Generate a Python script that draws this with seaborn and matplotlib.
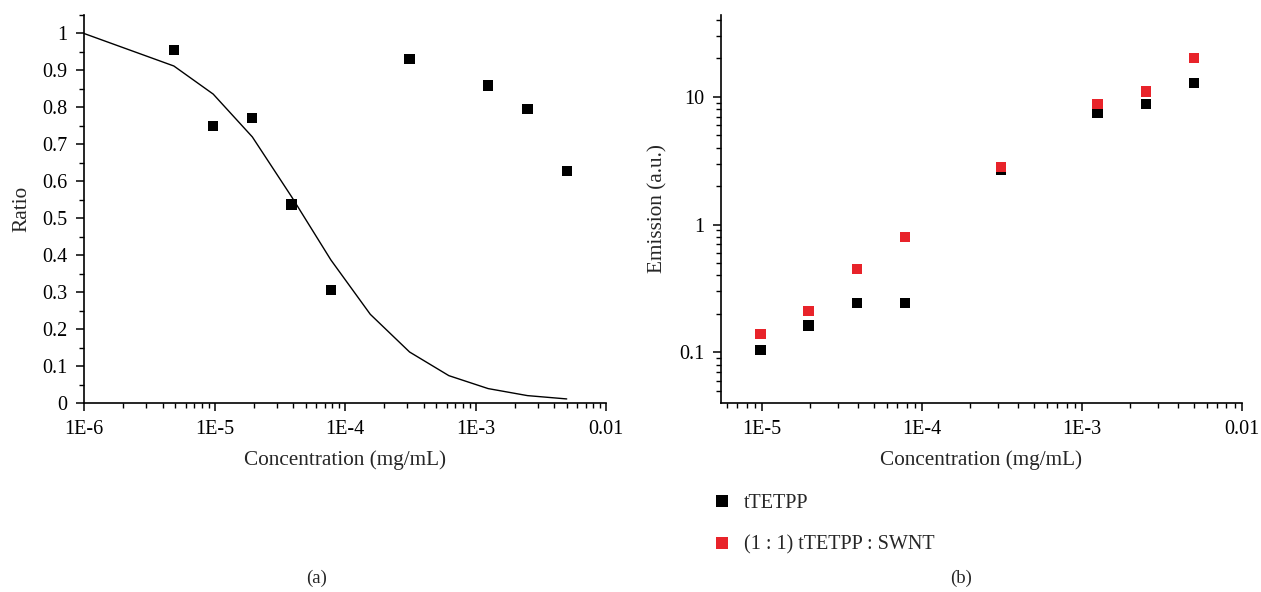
import numpy as np
import pandas as pd
import matplotlib
matplotlib.use("Agg")
import matplotlib.pyplot as plt
import matplotlib.ticker as mticker
from matplotlib.lines import Line2D
import seaborn as sns

# ---- data ----
ratio_conc = [4.88e-6, 9.77e-6, 1.95e-5, 3.9e-5, 7.8e-5, 3.125e-4, 1.25e-3, 2.5e-3, 5e-3]
ratio_vals = [0.955, 0.75, 0.772, 0.537, 0.306, 0.93, 0.859, 0.795, 0.627]

fit_conc = [1e-6, 4.88e-6, 9.77e-6, 1.95e-5, 3.9e-5, 7.8e-5, 1.5625e-4, 3.125e-4, 6.25e-4, 1.25e-3, 2.5e-3, 5e-3]
fit_vals = [1.0, 0.912, 0.836, 0.72, 0.558, 0.387, 0.24, 0.138, 0.074, 0.039, 0.020, 0.011]

em_conc = [9.77e-6, 1.95e-5, 3.9e-5, 7.8e-5, 3.125e-4, 1.25e-3, 2.5e-3, 5e-3]
em_tTETPP = [0.1037, 0.162, 0.242, 0.242, 2.66, 7.5, 8.76, 12.8]
em_swnt = [0.139, 0.21, 0.45, 0.796, 2.83, 8.76, 11.0, 20.2]

series_names = ["tTETPP", "(1 : 1) tTETPP : SWNT"]
x_ticks = [1e-6, 1e-5, 1e-4, 1e-3, 1e-2]
x_ticklabels = ["1E-6", "1E-5", "1E-4", "1E-3", "0.01"]
y2_ticks = [0.1, 1, 10]
y2_ticklabels = ["0.1", "1", "10"]

# ---- style ----
sns.set_style("ticks")
plt.rcParams["font.family"] = ["Liberation Serif", "DejaVu Serif"]
FS = 14.5
FS_LABEL = 15.3
BLACK = "#000000"
RED = "#e8232a"

fig = plt.figure(figsize=(12.61, 5.92), dpi=100)
ax1 = fig.add_axes([84 / 1261, 189 / 592, 522 / 1261, 388 / 592])
ax2 = fig.add_axes([721 / 1261, 189 / 592, 521 / 1261, 388 / 592])

# ---- panel (a) ----
df_fit = pd.DataFrame({"conc": fit_conc, "ratio": fit_vals})
df_ratio = pd.DataFrame({"conc": ratio_conc, "ratio": ratio_vals})
sns.lineplot(data=df_fit, x="conc", y="ratio", ax=ax1, color=BLACK, lw=1.0,
             estimator=None, sort=True)
sns.scatterplot(data=df_ratio, x="conc", y="ratio", ax=ax1, color=BLACK,
                marker="s", s=55, edgecolor="none", zorder=5)
ax1.set_xscale("log")
ax1.set_xlim(1e-6, 1e-2)
ax1.set_ylim(0, 1.05)
ax1.xaxis.set_major_locator(mticker.FixedLocator(x_ticks))
ax1.xaxis.set_major_formatter(mticker.FixedFormatter(x_ticklabels))
ax1.xaxis.set_minor_locator(mticker.LogLocator(base=10, subs=np.arange(2, 10)))
ax1.xaxis.set_minor_formatter(mticker.NullFormatter())
ax1.yaxis.set_major_locator(mticker.MultipleLocator(0.1))
ax1.yaxis.set_major_formatter(mticker.FuncFormatter(
    lambda v, p: f"{int(round(v))}" if abs(v - round(v)) < 1e-9 else f"{v:.1f}"))
ax1.yaxis.set_minor_locator(mticker.MultipleLocator(0.05))
ax1.set_xlabel("Concentration (mg/mL)", fontsize=FS_LABEL, labelpad=8)
ax1.set_ylabel("Ratio", fontsize=FS_LABEL, labelpad=8)

# ---- panel (b) ----
df_em = pd.DataFrame({
    "conc": em_conc * 2,
    "emission": em_tTETPP + em_swnt,
    "series": [series_names[0]] * len(em_conc) + [series_names[1]] * len(em_conc),
})
sns.scatterplot(data=df_em, x="conc", y="emission", hue="series",
                palette={series_names[0]: BLACK, series_names[1]: RED},
                marker="s", s=55, edgecolor="none", ax=ax2, legend=False, zorder=5)
ax2.set_xscale("log")
ax2.set_yscale("log")
ax2.set_xlim(5.53e-6, 1e-2)
ax2.set_ylim(0.0401, 43.6)
ax2.xaxis.set_major_locator(mticker.FixedLocator(x_ticks[1:]))
ax2.xaxis.set_major_formatter(mticker.FixedFormatter(x_ticklabels[1:]))
ax2.xaxis.set_minor_locator(mticker.LogLocator(base=10, subs=np.arange(2, 10)))
ax2.xaxis.set_minor_formatter(mticker.NullFormatter())
ax2.yaxis.set_major_locator(mticker.FixedLocator(y2_ticks))
ax2.yaxis.set_major_formatter(mticker.FixedFormatter(y2_ticklabels))
ax2.yaxis.set_minor_locator(mticker.LogLocator(base=10, subs=np.arange(2, 10)))
ax2.yaxis.set_minor_formatter(mticker.NullFormatter())
ax2.set_xlabel("Concentration (mg/mL)", fontsize=FS_LABEL, labelpad=8)
ax2.set_ylabel("Emission (a.u.)", fontsize=FS_LABEL, labelpad=8)

for ax in (ax1, ax2):
    sns.despine(ax=ax)
    for s in ("left", "bottom"):
        ax.spines[s].set_linewidth(1.2)
        ax.spines[s].set_color(BLACK)
    ax.tick_params(which="major", direction="out", length=6, width=1.1,
                   labelsize=FS, colors=BLACK, pad=6)
    ax.tick_params(which="minor", direction="out", length=3.5, width=1.0, colors=BLACK)

# ---- legend ----
handles = [Line2D([], [], marker="s", ls="none", color=c, markersize=8, markeredgewidth=0)
           for c in (BLACK, RED)]
fig.legend(handles, series_names, loc="upper left", bbox_to_anchor=(704 / 1261, 1 - 486 / 592),
           frameon=False, fontsize=FS, handletextpad=0.6, labelspacing=1.1,
           handlelength=1.0, borderaxespad=0)

# ---- panel labels ----
fig.text(317 / 1261, 1 - 578 / 592, "(a)", ha="center", va="center", fontsize=FS - 1)
fig.text(961 / 1261, 1 - 578 / 592, "(b)", ha="center", va="center", fontsize=FS - 1)

fig.savefig("out.png", dpi=100)
